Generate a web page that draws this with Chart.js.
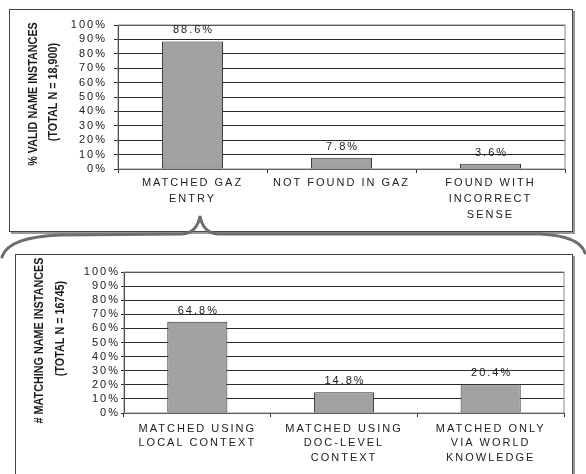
<!DOCTYPE html>
<html>
<head>
<meta charset="utf-8">
<script src="https://cdn.jsdelivr.net/npm/chart.js@4/dist/chart.umd.min.js"></script>
<style>
  body { margin: 0; background: #fff; width: 586px; height: 474px; overflow: hidden; position: relative; }
  .box { position: absolute; border: 1.5px solid #444; box-shadow: 2px 2px 0 #999; background: #fff; }
  canvas { position: absolute; }
  svg { position: absolute; left: 0; top: 0; }
</style>
</head>
<body>
<div class="box" style="left:9px; top:9px; width:562px; height:221px;"></div>
<div class="box" style="left:15px; top:254px; width:556px; height:240px;"></div>
<canvas id="gazChart" width="563" height="221" style="left:10px; top:10px;"></canvas>
<canvas id="matchChart" width="557" height="219" style="left:16px; top:255px;"></canvas>
<svg width="586" height="474">
  <path d="M 2 257 Q 8 237 60 235 L 182 234 Q 197 233 200 216 Q 203 233 218 234 L 540 234 Q 580 236 585 253"
        fill="none" stroke="#6e6e6e" stroke-width="3" stroke-linecap="round"/>
</svg>
<script>
// --- Data ---
const gazCategories = [['MATCHED GAZ', 'ENTRY'], 'NOT FOUND IN GAZ', ['FOUND WITH', 'INCORRECT', 'SENSE']];
const gazValues = [88.6, 7.8, 3.6];
const gazTitle = ['% VALID NAME INSTANCES', '(TOTAL N = 18,900)'];

const matchCategories = [['MATCHED USING', 'LOCAL CONTEXT'], ['MATCHED USING', 'DOC-LEVEL', 'CONTEXT'], ['MATCHED ONLY', 'VIA WORLD', 'KNOWLEDGE']];
const matchValues = [64.8, 14.8, 20.4];
const matchTitle = ['# MATCHING NAME INSTANCES', '(TOTAL N = 16745)'];

const yTicks = [0, 10, 20, 30, 40, 50, 60, 70, 80, 90, 100];

const textFont = "'Liberation Sans', Arial, sans-serif";

// letter spacing for the stretched look of the original text
const spacingPlugin = {
    id: 'spacing',
    beforeDraw(chart) { chart.ctx.letterSpacing = '2px'; }
};

// gray frame round the plot area
const framePlugin = {
    id: 'frame',
    beforeDatasetsDraw(chart) {
        const { ctx, chartArea: a } = chart;
        ctx.save();
        ctx.strokeStyle = '#888';
        ctx.lineWidth = 1;
        ctx.strokeRect(a.left, a.top, a.right - a.left, a.bottom - a.top);
        ctx.restore();
    }
};

// value labels above bars
const valueLabels = {
    id: 'valueLabels',
    afterDatasetsDraw(chart) {
        const ctx = chart.ctx;
        const meta = chart.getDatasetMeta(0);
        const data = chart.data.datasets[0].data;
        ctx.save();
        ctx.font = '11px ' + textFont;
        ctx.fillStyle = '#222';
        ctx.textAlign = 'center';
        ctx.textBaseline = 'middle';
        meta.data.forEach((bar, i) => {
            ctx.fillText(data[i].toFixed(1) + '%', bar.x + 1, bar.y - 11);
        });
        ctx.restore();
    }
};

// condensed bold axis title, drawn by hand (no letter spacing)
const axisTitle = {
    id: 'axisTitle',
    afterDraw(chart, args, opts) {
        const ctx = chart.ctx;
        const a = chart.chartArea;
        const mid = (a.top + a.bottom) / 2;
        ctx.save();
        ctx.letterSpacing = '0px';
        ctx.font = 'bold 13.5px ' + textFont;
        ctx.fillStyle = '#1a1a1a';
        ctx.textAlign = 'center';
        ctx.textBaseline = 'middle';
        opts.lines.forEach((line, i) => {
            ctx.save();
            ctx.translate(opts.x[i], mid + opts.dy[i]);
            ctx.rotate(-Math.PI / 2);
            ctx.scale(0.8, 1);
            ctx.fillText(line, 0, 0);
            ctx.restore();
        });
        ctx.restore();
    }
};

function makeChart(id, labels, values, title, cfg) {
    return new Chart(document.getElementById(id), {
        type: 'bar',
        data: {
            labels: labels,
            datasets: [{
                data: values,
                backgroundColor: '#a2a2a2',
                borderColor: '#333',
                borderWidth: 1,
                borderSkipped: false,
                categoryPercentage: 1,
                barPercentage: 0.41
            }]
        },
        options: {
            responsive: false,
            devicePixelRatio: 1,
            animation: false,
            layout: { padding: { top: cfg.padTop, right: cfg.padRight, left: 0, bottom: 0 } },
            plugins: {
                legend: { display: false },
                tooltip: { enabled: false },
                axisTitle: { lines: title, x: cfg.titleX, dy: cfg.titleDy }
            },
            scales: {
                x: {
                    grid: { display: true, drawOnChartArea: false, offset: true, tickLength: 4, color: '#333' },
                    border: { color: '#333' },
                    ticks: {
                        font: { size: 11, family: textFont, lineHeight: cfg.xLineHeight },
                        color: '#222', maxRotation: 0, autoSkip: false, padding: cfg.xPad
                    },
                    afterFit(scale) { scale.height = cfg.xHeight; }
                },
                y: {
                    min: 0, max: 100,
                    afterBuildTicks(scale) { scale.ticks = yTicks.map(v => ({ value: v })); },
                    grid: { color: '#2a2a2a', tickLength: cfg.yTick },
                    border: { color: '#111' },
                    ticks: {
                        font: { size: 11, family: textFont },
                        color: '#222', padding: cfg.yPad, autoSkip: false,
                        callback: v => v + '%'
                    },
                    afterFit(scale) { scale.width = 108; }
                }
            }
        },
        plugins: [spacingPlugin, framePlugin, valueLabels, axisTitle]
    });
}

makeChart('gazChart', gazCategories, gazValues, gazTitle,
    { padTop: 15, padRight: 8, xHeight: 62, xLineHeight: 1.45, xPad: 2, yTick: 4, yPad: 7, titleX: [23, 43], titleDy: [-3, -5] });
makeChart('matchChart', matchCategories, matchValues, matchTitle,
    { padTop: 17, padRight: 9, xHeight: 61, xLineHeight: 1.36, xPad: 4, yTick: 3, yPad: 1, titleX: [23, 44], titleDy: [-2, -14] });
</script>
</body>
</html>
